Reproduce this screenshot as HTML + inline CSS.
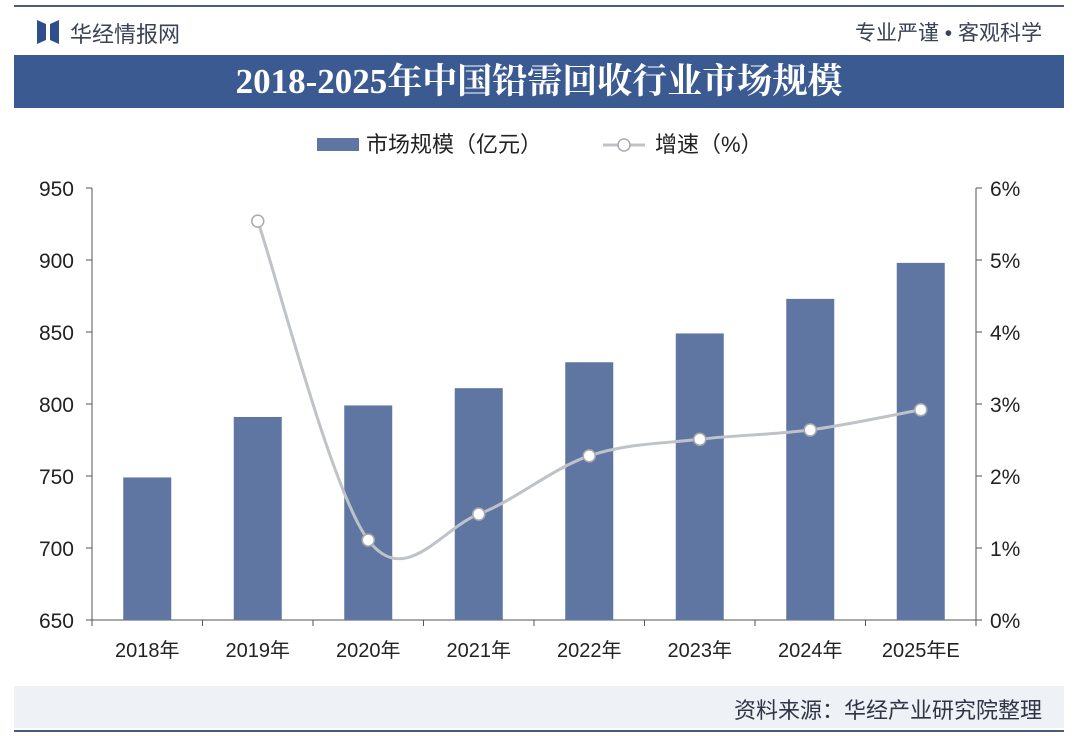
<!DOCTYPE html>
<html><head><meta charset="utf-8"><style>
body{margin:0;width:1080px;height:736px;background:#fff;font-family:"Liberation Sans","Noto Sans CJK SC",sans-serif;overflow:hidden;position:relative}
.abs{position:absolute}
</style></head><body>
<div class="abs" style="left:14px;top:5px;width:1050px;height:2px;background:#4a5a78"></div>
<div class="abs" style="left:37px;top:20px;width:22px;height:24px">
<svg width="22" height="24"><polygon points="0,0 9,4 9,20 0,24" fill="#2f4f8a"/><polygon points="22,0 13,4 13,20 22,24" fill="#2f4f8a"/></svg></div>
<div class="abs" style="left:70px;top:17px;font-size:22px;color:#3a4256">华经情报网</div>
<div class="abs" style="right:38px;top:17px;font-size:21px;color:#3a4256">专业严谨 • 客观科学</div>
<div class="abs" style="left:14px;top:55px;width:1050px;height:53px;background:#3b5a91;color:#fff;font-family:'Liberation Serif','Noto Serif CJK SC',serif;font-weight:bold;font-size:35px;line-height:53px;text-align:center">2018-2025年中国铅需回收行业市场规模</div>
<div class="abs" style="left:14px;top:686px;width:1050px;height:42px;background:#eef1f5"></div>
<div class="abs" style="right:38px;top:693px;font-size:22px;color:#2f3545">资料来源：华经产业研究院整理</div>
<div class="abs" style="left:14px;top:730px;width:1050px;height:2px;background:#4a5a78"></div>
<svg class="abs" style="left:0;top:0" width="1080" height="736" id="chart">
<g>
<rect x="317" y="138" width="42" height="13" fill="#5f76a3"/>
<text x="366" y="152" font-size="22" fill="#222">市场规模（亿元）</text>
<line x1="603" y1="145" x2="645" y2="145" stroke="#bfc3c9" stroke-width="3"/>
<circle cx="624" cy="145" r="6" fill="#fff" stroke="#aaa" stroke-width="1.5"/>
<text x="655" y="152" font-size="22" fill="#222">增速（%）</text>
</g>
</svg>
<script>
const categories=['2018年','2019年','2020年','2021年','2022年','2023年','2024年','2025年E'];
const marketSize=[749,791,799,811,829,849,873,898];
const growth=[null,5.54,1.11,1.47,2.28,2.51,2.64,2.92];
const leftTicks=[650,700,750,800,850,900,950];
const rightTicks=[0,1,2,3,4,5,6];
const svg=document.getElementById('chart');const NS='http://www.w3.org/2000/svg';
const X0=92,X1=976,Y0=620,Y1=188;
const band=(X1-X0)/categories.length;
const xc=i=>X0+band*(i+0.5);
const yL=v=>Y0-(v-650)/(950-650)*(Y0-Y1);
const yR=v=>Y0-v/6*(Y0-Y1);
function mk(t,a,p){const e=document.createElementNS(NS,t);for(const k in a)e.setAttribute(k,a[k]);(p||svg).appendChild(e);return e;}
const axes=mk('g',{});


mk('line',{x1:X0,y1:Y1,x2:X0,y2:Y0,stroke:'#555','stroke-width':1},axes);
mk('line',{x1:X1,y1:Y1,x2:X1,y2:Y0,stroke:'#555','stroke-width':1},axes);
mk('line',{x1:X0,y1:Y0,x2:X1,y2:Y0,stroke:'#555','stroke-width':1},axes);
leftTicks.forEach(v=>{mk('line',{x1:X0-6,x2:X0,y1:yL(v),y2:yL(v),stroke:'#555'},axes);
const t=mk('text',{x:X0-18,y:yL(v)+8,'font-size':21,'text-anchor':'end',fill:'#222'},axes);t.textContent=v;

});
rightTicks.forEach(v=>{mk('line',{x1:X1,x2:X1+6,y1:yR(v),y2:yR(v),stroke:'#555'},axes);
const t=mk('text',{x:X1+14,y:yR(v)+8,'font-size':21,fill:'#222'},axes);t.textContent=v+'%';

});
for(let i=0;i<=categories.length;i++)mk('line',{x1:X0+band*i,x2:X0+band*i,y1:Y0,y2:Y0+6,stroke:'#555'},axes);
categories.forEach((c,i)=>{const t=mk('text',{x:xc(i),y:657,'font-size':20,'text-anchor':'middle',fill:'#222'},axes);t.textContent=c;

});
marketSize.forEach((v,i)=>{const r=mk('rect',{x:xc(i)-24,y:yL(v),width:48,height:Y0-yL(v),fill:'#5f76a3'});

});
const pts=growth.map((v,i)=>v==null?null:[xc(i),yR(v)]).filter(p=>p);
let d='M'+pts[0][0]+','+pts[0][1];
for(let i=0;i<pts.length-1;i++){const p0=pts[i-1]||pts[i],p1=pts[i],p2=pts[i+1],p3=pts[i+2]||p2;
d+=' C'+(p1[0]+(p2[0]-p0[0])/6)+','+(p1[1]+(p2[1]-p0[1])/6)+' '+(p2[0]-(p3[0]-p1[0])/6)+','+(p2[1]-(p3[1]-p1[1])/6)+' '+p2[0]+','+p2[1];}
const ln=mk('path',{d:d,fill:'none',stroke:'#bfc3c9','stroke-width':3});


pts.forEach(p=>{const c=mk('circle',{cx:p[0],cy:p[1],r:6,fill:'#fff',stroke:'#aaa','stroke-width':1.5});

});
</script>
</body></html>
